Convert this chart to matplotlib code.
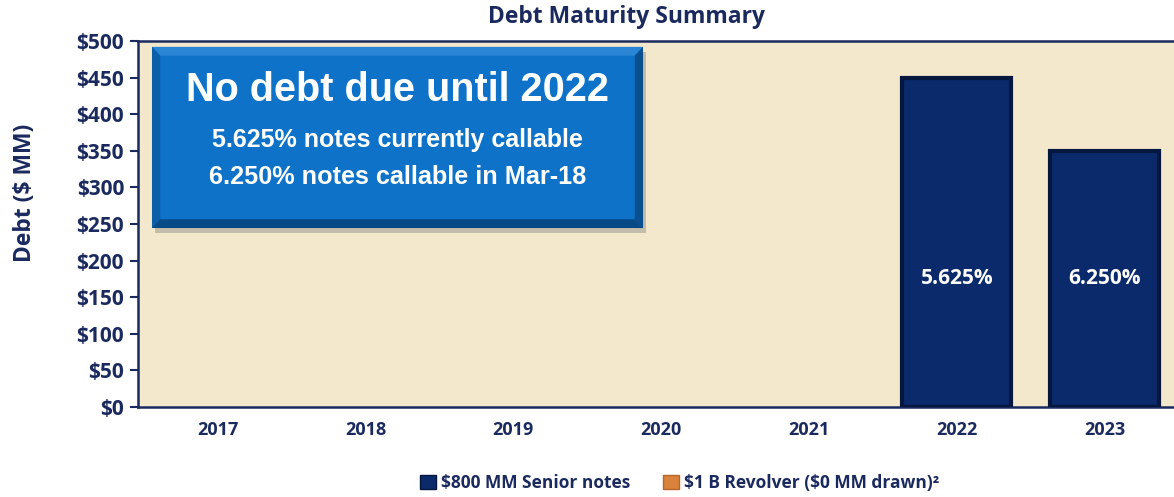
import matplotlib
matplotlib.use("Agg")
import matplotlib.pyplot as plt
from matplotlib.patches import Rectangle, Polygon, Patch
import numpy as np

years = ["2017", "2018", "2019", "2020", "2021", "2022", "2023"]
senior_notes = [0, 0, 0, 0, 0, 450, 350]
revolver = [0, 0, 0, 0, 0, 0, 0]
bar_labels = ["", "", "", "", "", "5.625%", "6.250%"]
yticks = [0, 50, 100, 150, 200, 250, 300, 350, 400, 450, 500]
ytick_labels = ["$" + str(v) for v in yticks]
legend_labels = ["\\$800 MM Senior notes", "\\$1 B Revolver (\\$0 MM drawn)²"]

NAVY = "#1B2A5E"
LABEL_FONT = ["Open Sans", "DejaVu Sans"]
BOX_FONT = ["Liberation Sans", "DejaVu Sans"]

fig = plt.figure(figsize=(11.74, 4.97), dpi=100)
fig.patch.set_facecolor("white")
ax = fig.add_axes([138/1174, 1 - 407/497, (1174-138)/1174, (407-41)/497])
ax.set_facecolor("#F3E8CC")

x = np.arange(len(years))
lw = [3 if v > 0 else 0 for v in senior_notes]
ax.bar(x, senior_notes, width=0.74, color="#0B2A6B", edgecolor="#06173F",
       linewidth=lw, zorder=3)
ax.bar(x, revolver, bottom=senior_notes, width=0.74, color="#D9823B",
       linewidth=0, zorder=3)

for xi, lab in zip(x, bar_labels):
    if lab:
        ax.text(xi, 175, lab, ha="center", va="center", color="white",
                fontsize=15, fontweight="bold", family=LABEL_FONT, zorder=4)

ax.set_xlim(-0.54, 6.47)
ax.set_ylim(0, 500)
ax.set_xticks(x)
ax.set_xticklabels(years, fontsize=13, fontweight="bold", color=NAVY, family=LABEL_FONT)
ax.set_yticks(yticks)
ax.set_yticklabels(ytick_labels, fontsize=15, fontweight="bold", color=NAVY, family=LABEL_FONT)
ax.tick_params(axis="y", length=6, width=1.5, color=NAVY, pad=4)
ax.tick_params(axis="x", length=0, pad=10)
for s in ["left", "bottom", "top"]:
    ax.spines[s].set_color(NAVY)
    ax.spines[s].set_linewidth(1.8)
ax.spines["right"].set_visible(False)

fig.text(25/1174, 1 - 193/497, "Debt ($ MM)", rotation=90, ha="center", va="center",
         fontsize=16.5, fontweight="bold", color=NAVY, family=LABEL_FONT)

fig.text(626/1174, 1 - 17/497, "Debt Maturity Summary", ha="center", va="center",
         fontsize=16.5, fontweight="bold", color=NAVY, family=LABEL_FONT)

# Callout box (axes fraction coordinates)
T = ax.transAxes
x0, x1, y0, y1 = 0.0135, 0.4875, 0.489, 0.984
bw, bh = 0.008, 0.024
ax.add_patch(Rectangle((x0 + 0.003, y0 - 0.014), x1 - x0, y1 - y0, transform=T,
                       facecolor="#6a6a6a", alpha=0.35, edgecolor="none", zorder=5))
ax.add_patch(Rectangle((x0, y0), x1 - x0, y1 - y0, transform=T,
                       facecolor="#0E72C8", edgecolor="none", zorder=6))
ax.add_patch(Polygon([(x0, y1), (x1, y1), (x1 - bw, y1 - bh), (x0 + bw, y1 - bh)],
                     closed=True, transform=T, facecolor="#2A86D4", edgecolor="none", zorder=7))
ax.add_patch(Polygon([(x0, y0), (x0, y1), (x0 + bw, y1 - bh), (x0 + bw, y0 + bh)],
                     closed=True, transform=T, facecolor="#0B5FA8", edgecolor="none", zorder=7))
ax.add_patch(Polygon([(x1, y0), (x1, y1), (x1 - bw, y1 - bh), (x1 - bw, y0 + bh)],
                     closed=True, transform=T, facecolor="#0A4F8F", edgecolor="none", zorder=7))
ax.add_patch(Polygon([(x0, y0), (x1, y0), (x1 - bw, y0 + bh), (x0 + bw, y0 + bh)],
                     closed=True, transform=T, facecolor="#084A86", edgecolor="none", zorder=7))

cx = (x0 + x1) / 2
ax.text(cx, 0.866, "No debt due until 2022", transform=T, ha="center", va="center",
        color="white", fontsize=28.5, fontweight="bold", family=BOX_FONT, zorder=8)
ax.text(cx, 0.730, "5.625% notes currently callable", transform=T, ha="center", va="center",
        color="white", fontsize=18, fontweight="bold", family=BOX_FONT, zorder=8)
ax.text(cx, 0.628, "6.250% notes callable in Mar-18", transform=T, ha="center", va="center",
        color="white", fontsize=18.2, fontweight="bold", family=BOX_FONT, zorder=8)

handles = [Patch(facecolor="#0B2A6B", edgecolor="#06173F"),
           Patch(facecolor="#D9823B", edgecolor="#B8652A")]
leg = fig.legend(handles, legend_labels,
                 loc="center", bbox_to_anchor=(680/1174, 1 - 483/497), ncol=2,
                 frameon=False, handlelength=0.9, handleheight=0.9, handletextpad=0.3,
                 columnspacing=1.9, prop={"family": LABEL_FONT, "weight": "bold", "size": 12.5})
for t in leg.get_texts():
    t.set_color(NAVY)

fig.savefig("out.png", dpi=100)
